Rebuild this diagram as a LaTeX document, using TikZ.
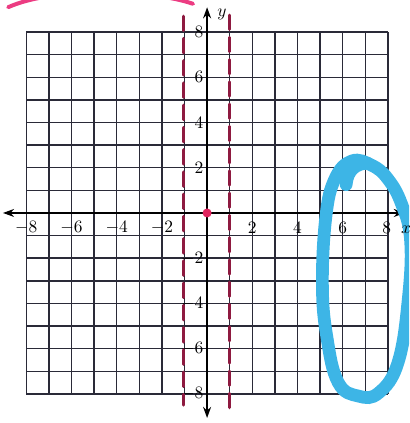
\documentclass[tikz,border=0pt]{standalone}
\usepackage{tikz}
\usetikzlibrary{arrows.meta}
\definecolor{gridcolor}{HTML}{2A2A38}
\definecolor{asymcolor}{HTML}{8E1A40}
\definecolor{dotcolor}{HTML}{E0245E}
\definecolor{arccolor}{HTML}{EC3C82}
\definecolor{ovalcolor}{HTML}{3DB5E6}

\begin{document}
\begin{tikzpicture}[x=0.5cm, y=0.5cm,
  every node/.style={font=\fontsize{11}{13}\selectfont},
  gridline/.style={draw=gridcolor, line width=0.9pt, step=1},
  axisline/.style={{Stealth[length=7pt,width=5pt]}-{Stealth[length=7pt,width=5pt]}, line width=1.1pt},
  asym/.style={draw=asymcolor, line width=2pt, dash pattern=on 9pt off 5pt, line cap=round},
  xlab/.style={inner sep=1pt},
  ylab/.style={inner sep=1pt, anchor=east},
  dot/.style={circle, fill=dotcolor, minimum size=0.2cm, inner sep=0pt},
  ovalstroke/.style={draw=ovalcolor, line width=8pt, line cap=round},
  arcstroke/.style={draw=arccolor, line width=2.5pt, line cap=round}
]
  \clip (-9.16,-9.29) rectangle (8.94,9.42);
  \draw[gridline] (-8,-8) grid (8,8);
  \draw[axisline] (-9.03,0) -- (8.75,0);
  \draw[axisline] (0,-9.07) -- (0,9.1);
  \node (ylabel) at (0.66,8.8) {$y$};
  % numbers on the x axis
  \node[xlab] (xm8) at (-8,-0.67) {$-8$};
  \node[xlab] (xm6) at (-6,-0.67) {$-6$};
  \node[xlab] (xm4) at (-4,-0.67) {$-4$};
  \node[xlab] (xm2) at (-2,-0.67) {$-2$};
  \node[xlab] (xp2) at (2,-0.67) {$2$};
  \node[xlab] (xp4) at (4,-0.67) {$4$};
  \node[xlab] (xp6) at (6,-0.67) {$6$};
  \node[xlab] (xp8) at (7.95,-0.67) {$8$};
  % numbers on the y axis
  \node[ylab] (yp8) at (-0.08,8) {$8$};
  \node[ylab] (yp6) at (-0.08,6) {$6$};
  \node[ylab] (yp4) at (-0.08,4) {$4$};
  \node[ylab] (yp2) at (-0.08,2) {$2$};
  \node[ylab] (ym2) at (-0.08,-2) {$-2$};
  \node[ylab] (ym4) at (-0.08,-4) {$-4$};
  \node[ylab] (ym6) at (-0.08,-6) {$-6$};
  \node[ylab] (ym8) at (-0.08,-8) {$-8$};
  % the hand drawn marks
  \draw[asym] (-1.05,8.7) -- (-1.05,-8.5);
  \draw[asym] (1.0,8.75) -- (1.0,-8.85);
  \node[dot] (origin) at (0,0) {};
  \draw[arcstroke] (-8.8,9.1) .. controls (-6.8,10.0) and (-2.5,9.9) .. (-0.62,9.25);
  \draw[ovalstroke] plot[smooth cycle, tension=0.7] coordinates {
    (6.4,2.3) (7.3,2.1) (8.0,1.5) (8.6,0.4) (9.0,-1.2) (8.9,-3.8) (8.45,-6.6)
    (7.6,-7.95) (6.7,-8.1) (5.8,-7.5) (5.3,-5.5) (5.1,-3.2) (5.25,-0.2) (5.65,1.5)};
  \draw[ovalstroke] (6.15,1.25) .. controls (6.2,1.9) and (6.6,2.2) .. (7.1,2.2);
  \node[inner sep=1pt] (xlabel) at (8.8,-0.75) {$x$};
\end{tikzpicture}
\end{document}
